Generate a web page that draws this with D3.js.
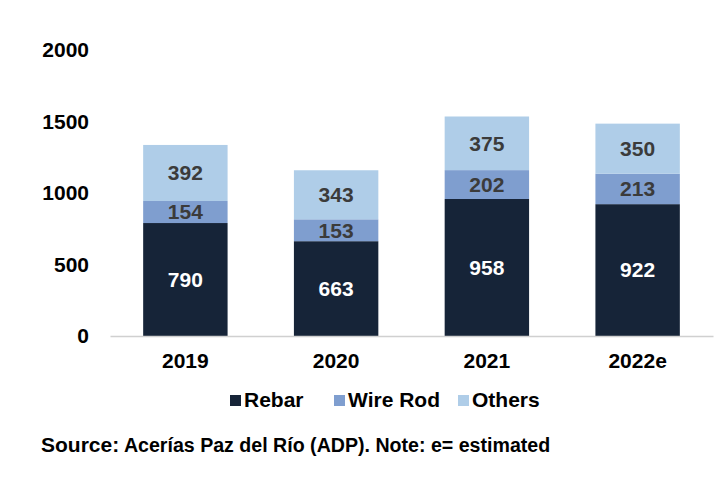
<!DOCTYPE html>
<html>
<head>
<meta charset="utf-8">
<script src="https://cdn.jsdelivr.net/npm/d3@7"></script>
<style>
  body { margin: 0; background: #fff; }
  text { font-family: "Liberation Sans", Arial, sans-serif; font-weight: bold; }
</style>
</head>
<body>
<div id="chart"></div>
<script>
// Data
const years = ["2019", "2020", "2021", "2022e"];
const seriesNames = ["Rebar", "Wire Rod", "Others"];
const rebar = [790, 663, 958, 922];
const wireRod = [154, 153, 202, 213];
const others = [392, 343, 375, 350];
const yTicks = [0, 500, 1000, 1500, 2000];
const colors = ["#162438", "#7f9ecf", "#afcde8"];
const labelColors = ["#ffffff", "#3b3b3b", "#3b3b3b"];

const svg = d3
  .select("#chart")
  .append("svg")
  .attr("width", 715)
  .attr("height", 492);

const margin = { top: 50, left: 110, right: 2, bottom: 156 };
const width = 715 - margin.left - margin.right;
const height = 492 - margin.top - margin.bottom;

const chart = svg.append("g").attr("transform", `translate(${margin.left},${margin.top})`);

// build rows for stacking
const rows = years.map((y, i) => ({ year: y, "Rebar": rebar[i], "Wire Rod": wireRod[i], "Others": others[i] }));
const stacked = d3.stack().keys(seriesNames)(rows);

const xScale = d3.scaleBand().domain(years).range([0, width]).paddingInner(0.44).paddingOuter(0.22);
const yScale = d3.scaleLinear().domain([0, 2000]).range([height, 0]);

// Bars
const layers = chart.selectAll(".layer")
  .data(stacked)
  .join("g")
  .attr("class", "layer")
  .attr("fill", (d, i) => colors[i]);

layers.selectAll("rect")
  .data(d => d)
  .join("rect")
  .attr("x", d => xScale(d.data.year))
  .attr("y", d => yScale(d[1]))
  .attr("width", xScale.bandwidth())
  .attr("height", d => yScale(d[0]) - yScale(d[1]));

// Value labels
stacked.forEach((layer, i) => {
  chart.append("g")
    .selectAll("text")
    .data(layer)
    .join("text")
    .attr("x", d => xScale(d.data.year) + xScale.bandwidth() / 2)
    .attr("y", d => yScale((d[0] + d[1]) / 2))
    .attr("dy", "0.35em")
    .attr("text-anchor", "middle")
    .attr("fill", labelColors[i])
    .style("font-size", "21px")
    .text(d => d[1] - d[0]);
});

// Y axis
const yAxis = chart.append("g")
  .call(d3.axisLeft(yScale).tickValues(yTicks).tickFormat(d3.format("d")).tickSize(0).tickPadding(21));
yAxis.select(".domain").remove();
yAxis.selectAll("text").attr("fill", "#000").style("font-size", "21px");

// X axis
const xAxis = chart.append("g")
  .attr("transform", `translate(0,${height})`)
  .call(d3.axisBottom(xScale).tickSize(0).tickPadding(17));
xAxis.select(".domain").attr("stroke", "#d0d0d0").attr("stroke-width", 1.5);
xAxis.selectAll("text").attr("fill", "#000").style("font-size", "21px");

// Legend
const legendX = [230, 334, 458];
const legend = svg.append("g");
seriesNames.forEach((name, i) => {
  legend.append("rect")
    .attr("x", legendX[i])
    .attr("y", 395)
    .attr("width", 11)
    .attr("height", 11)
    .attr("fill", colors[i]);
  legend.append("text")
    .attr("x", legendX[i] + 14)
    .attr("y", 407)
    .attr("fill", "#000")
    .style("font-size", "21px")
    .text(name);
});

// Source note
const note = svg.append("text")
  .attr("x", 41)
  .attr("y", 452)
  .attr("fill", "#000");
note.append("tspan").style("font-size", "21px").text("Source:");
note.append("tspan").style("font-size", "19.6px").text(" Acerías Paz del Río (ADP). Note: e= estimated");
</script>
</body>
</html>
